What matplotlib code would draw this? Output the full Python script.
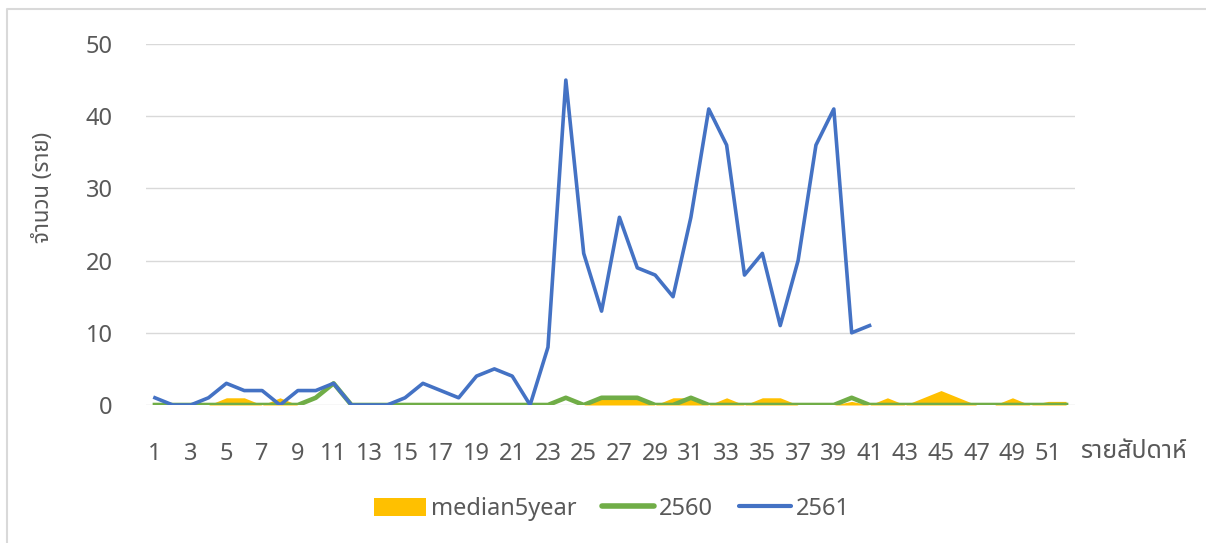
import numpy as np
import matplotlib
matplotlib.use('Agg')
import matplotlib.pyplot as plt
from matplotlib.lines import Line2D
from matplotlib.patches import Patch

plt.rcParams['font.family'] = ['Noto Sans Thai', 'Noto Sans', 'DejaVu Sans']

weeks = np.arange(1, 53)
median5year = [0, 0, 0, 0, 1, 1, 0, 1, 0, 0, 0, 0, 0, 0, 0, 0, 0, 0, 0, 0,
               0, 0, 0, 0, 0, 1, 1, 1, 0, 1, 1, 0, 1, 0, 1, 1, 0, 0, 0, 0.5,
               0, 1, 0, 1, 2, 1, 0, 0, 1, 0, 0.5, 0.5]
y2560 = [0, 0, 0, 0, 0, 0, 0, 0, 0, 1, 3, 0, 0, 0, 0, 0, 0, 0, 0, 0,
         0, 0, 0, 1, 0, 1, 1, 1, 0, 0, 1, 0, 0, 0, 0, 0, 0, 0, 0, 1,
         0, 0, 0, 0, 0, 0, 0, 0, 0, 0, 0, 0]
y2561 = [1, 0, 0, 1, 3, 2, 2, 0, 2, 2, 3, 0, 0, 0, 1, 3, 2, 1, 4, 5,
         4, 0, 8, 45, 21, 13, 26, 19, 18, 15, 26, 41, 36, 18, 21, 11, 20, 36, 41, 10,
         11]
xlabels = [str(w) if w % 2 == 1 else '' for w in weeks]

grey = '#595959'
c_med, c_60, c_61 = '#FFC000', '#70AD47', '#4472C4'

fig = plt.figure(figsize=(12.06, 5.43), dpi=100)
ax = fig.add_axes([146 / 1206, 1 - 405 / 543, (1075 - 146) / 1206, (405 - 44) / 543])

ax.fill_between(weeks, median5year, 0, color=c_med, lw=0, zorder=2)
ax.plot(weeks, y2560, color=c_60, lw=3.3, solid_joinstyle='round', zorder=3)
ax.plot(weeks[:len(y2561)], y2561, color=c_61, lw=2.6, solid_joinstyle='round', zorder=4)

ax.set_xlim(0.5, 52.5)
ax.set_ylim(0, 50)
ax.set_yticks([0, 10, 20, 30, 40, 50])
ax.set_xticks(weeks)
ax.set_xticklabels(xlabels)
ax.grid(axis='y', color='#D9D9D9', lw=1, zorder=1)
ax.set_axisbelow(True)
for s in ax.spines.values():
    s.set_visible(False)
ax.tick_params(axis='both', length=0, labelsize=17, colors=grey)
ax.tick_params(axis='x', pad=27)
ax.tick_params(axis='y', pad=24)

fig.text(43 / 1206, 1 - 187 / 543, 'จำนวน (ราย)', fontsize=16, color=grey, rotation=90, va='center', ha='center')
fig.text(1080 / 1206, 1 - 452 / 543, 'รายสัปดาห์', fontsize=18, color=grey, va='center', ha='left')

handles = [Patch(facecolor=c_med, edgecolor='none'),
           Line2D([], [], color=c_60, lw=4, solid_capstyle='round'),
           Line2D([], [], color=c_61, lw=3, solid_capstyle='round')]
fig.legend(handles, ['median5year', '2560', '2561'], loc='center', bbox_to_anchor=(612 / 1206, 1 - 509 / 543),
           ncol=3, frameon=False, fontsize=17, labelcolor=grey, handlelength=2.2, handleheight=0.8,
           handletextpad=0.2, columnspacing=1.1)

# chart border (top and left edges visible)
fig.add_artist(Line2D([7 / 1206, 7 / 1206, 1], [0, 1 - 9 / 543, 1 - 9 / 543], transform=fig.transFigure,
                      color='#D9D9D9', lw=1.5))

fig.savefig('out.png', dpi=100)
